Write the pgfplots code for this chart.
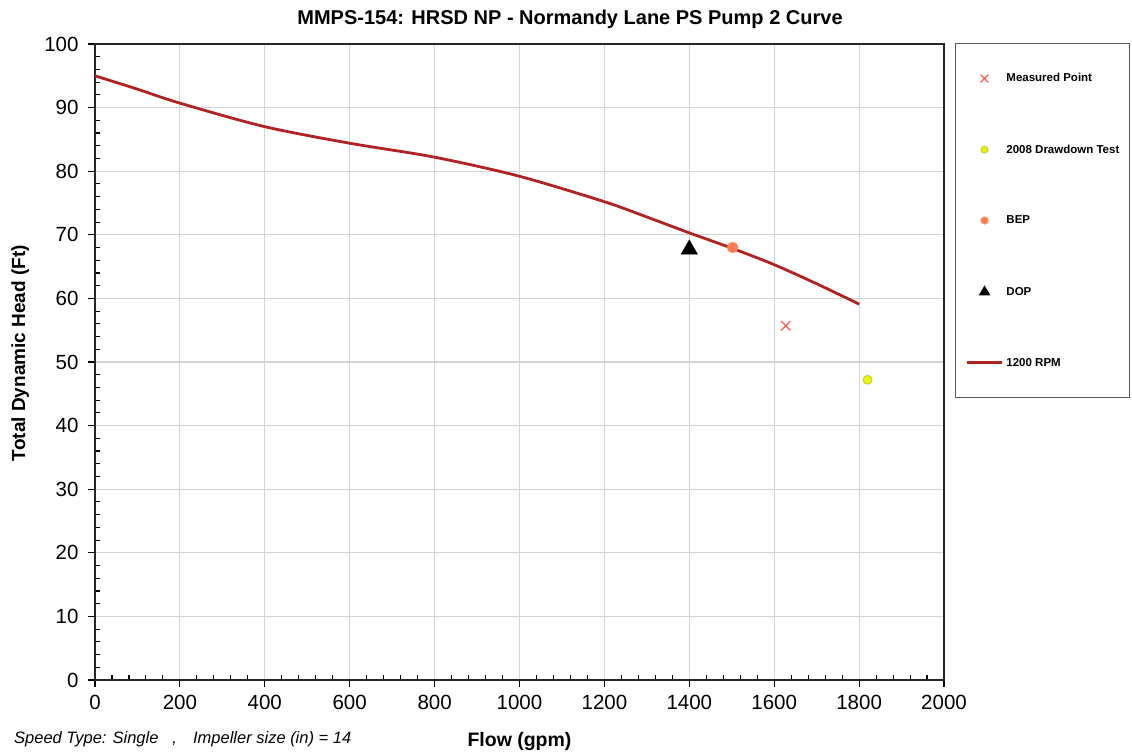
\documentclass[border=0pt]{standalone}
\usepackage{pgfplots}
\pgfplotsset{compat=1.18}
\usepackage{fontspec}
\setmainfont{Liberation Sans}
\definecolor{curvered}{RGB}{178,34,34}
\definecolor{measred}{RGB}{255,90,90}
\definecolor{ddfill}{RGB}{235,245,0}
\definecolor{dddraw}{RGB}{190,200,60}
\definecolor{bepfill}{RGB}{255,125,80}
\definecolor{gridgray}{RGB}{212,212,212}
\pgfplotsset{leg35/.style={legend image code/.code={\draw[mark repeat=2,mark phase=2,##1,mark size=#1] plot coordinates {(0pt,0pt)(17.5pt,0pt)(35pt,0pt)};}}}
\begin{document}
\begin{tikzpicture}[x=1pt,y=1pt]
\path[use as bounding box] (0,0) rectangle (1132,755);
\begin{axis}[
  at={(95pt,75pt)}, anchor=south west,
  width=849pt, height=636pt, scale only axis,
  xmin=0, xmax=2000, ymin=0, ymax=100,
  xtick={0,200,...,2000}, ytick={0,10,...,100},
  minor x tick num=4, minor y tick num=4,
  tick pos=left,
  tick align=outside,
  major tick length=7pt, minor tick length=-5pt,
  tick style={black, line width=1.1pt},
  axis line style={black!85, line width=1.3pt},
  grid=major,
  major grid style={gridgray, line width=1.1pt},
  ticklabel style={font=\fontsize{20.5}{22}\selectfont},
  xticklabel style={yshift=-5pt},
  yticklabel style={xshift=-6pt},
  /pgf/number format/assume math mode=true,
  /pgf/number format/set thousands separator={},
  xlabel={Flow (gpm)},
  xlabel style={at={(axis description cs:0.5,0)}, anchor=center, yshift=-61pt, font=\bfseries\fontsize{19.5}{21}\selectfont},
  ylabel={Total Dynamic Head (Ft)},
  ylabel style={at={(axis description cs:-0.088,0.514)}, anchor=center, rotate=0, font=\bfseries\fontsize{19}{21}\selectfont},
  title={MMPS-154: HRSD NP - Normandy Lane PS Pump 2 Curve},
  title style={at={(axis description cs:0.5595,1.029)}, anchor=center, font=\bfseries\fontsize{20}{22}\selectfont},
  legend style={at={(axis description cs:1.0130,1.0016)}, anchor=north west,
    draw=black!65, line width=1.2pt, fill=white,
    font=\bfseries\fontsize{11.5}{12}\selectfont,
    row sep=61.3pt, column sep=3pt, inner xsep=10pt, inner ysep=30pt,
    nodes={inner sep=0pt}},
  legend cell align=left,
  reverse legend,
  clip=false,
]
\addplot[smooth, curvered, line width=2.8pt, leg35=0pt] coordinates {
(0,95.0) (100,92.9) (200,90.7) (400,87.0) (600,84.4) (800,82.2) (1000,79.2)
(1200,75.2) (1300,72.8) (1400,70.3) (1500,67.9) (1600,65.3) (1700,62.3) (1800,59.1)};
\addlegendentry{1200 RPM}
\addplot[only marks, mark=triangle*, black, mark options={fill=black}, mark size=9.5pt, leg35=5.5pt] coordinates {(1400,67.7)};
\addlegendentry{DOP}
\addplot[only marks, mark=*, mark options={fill=bepfill, draw=bepfill!85!white}, mark size=5.5pt, leg35=3.5pt] coordinates {(1502,68)};
\addlegendentry{BEP}
\addplot[only marks, mark=*, mark options={fill=ddfill, draw=dddraw, line width=0.8pt}, mark size=4.5pt, leg35=3.5pt] coordinates {(1820,47.2)};
\addlegendentry{2008 Drawdown Test}
\addplot[only marks, mark=x, measred, mark options={line width=1.2pt}, mark size=6.5pt, leg35=5.5pt] coordinates {(1627,55.7)};
\addlegendentry{Measured Point}
\node[anchor=west, font=\itshape\fontsize{16.5}{18}\selectfont, inner sep=0pt] at (axis description cs:-0.0954,-0.0928) {Speed Type: Single\hspace{14pt},\hspace{16pt}Impeller size (in) = 14};
\end{axis}
\end{tikzpicture}
\end{document}
